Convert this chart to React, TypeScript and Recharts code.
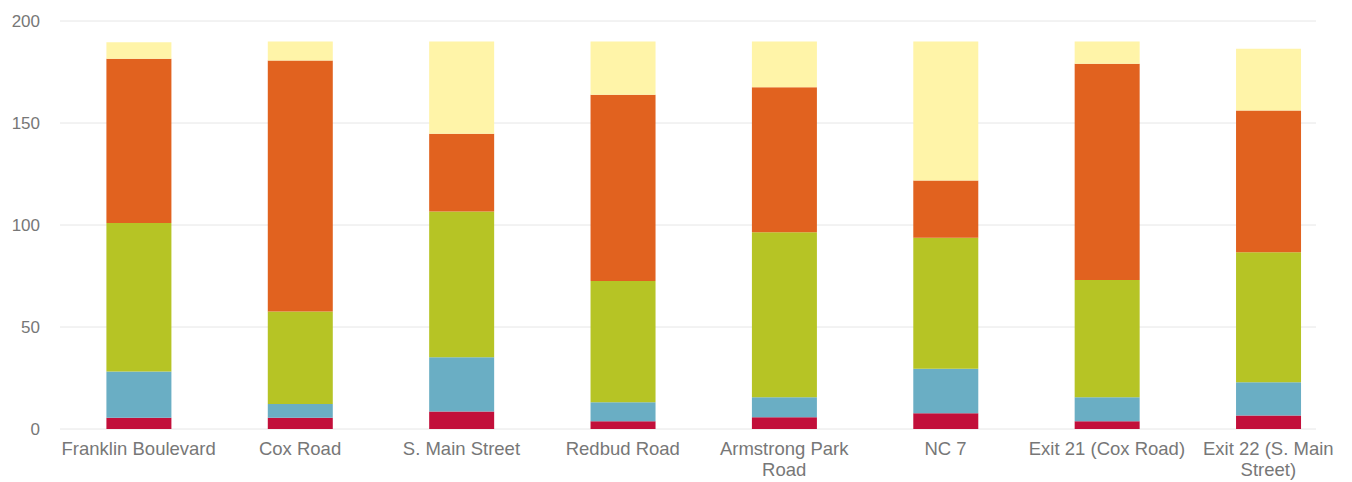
import { BarChart, Bar, XAxis, YAxis, CartesianGrid, Text } from "recharts";

const categories = [
  "Franklin Boulevard",
  "Cox Road",
  "S. Main Street",
  "Redbud Road",
  "Armstrong Park Road",
  "NC 7",
  "Exit 21 (Cox Road)",
  "Exit 22 (S. Main Street)",
];

// stacked from bottom to top
const redValues = [5.5, 5.5, 8.6, 3.8, 5.8, 7.7, 3.8, 6.6];
const blueValues = [22.7, 6.8, 26.6, 9.3, 9.8, 21.8, 11.8, 16.3];
const greenValues = [72.8, 45.3, 71.4, 59.4, 80.9, 64.2, 57.5, 63.8];
const orangeValues = [80.5, 123, 38.1, 91.3, 71, 28.1, 105.9, 69.4];
const yellowValues = [8.1, 9.4, 45.3, 26.2, 22.5, 68.2, 11, 30.3];

const yTicks = [0, 50, 100, 150, 200];

const series = [
  { key: "red", values: redValues, color: "#c20f3a" },
  { key: "blue", values: blueValues, color: "#6aaec4" },
  { key: "green", values: greenValues, color: "#b6c425" },
  { key: "orange", values: orangeValues, color: "#e1621f" },
  { key: "yellow", values: yellowValues, color: "#fff4a8" },
];

const data = categories.map((name, i) => {
  const row: Record<string, string | number> = { name };
  series.forEach((s) => {
    row[s.key] = s.values[i];
  });
  return row;
});

const FONT = "'Liberation Sans', Arial, sans-serif";

function CategoryTick(props: any) {
  const { x, y, payload } = props;
  const style = { fontSize: 18.5, fontFamily: FONT };
  return (
    <Text
      x={x}
      y={y + 5}
      width={150}
      textAnchor="middle"
      verticalAnchor="start"
      lineHeight={21}
      style={style}
      fontSize={18.5}
      fontFamily={FONT}
      fill="#777"
    >
      {payload.value}
    </Text>
  );
}

// grid lines stop a little short of the right edge, like the original
function GridLine(props: any) {
  const { x1, x2, y1, y2 } = props;
  return <line x1={x1 + 2} x2={x2 - 33} y1={y1} y2={y2} stroke="#e6e6e6" strokeWidth={1} />;
}

export default function App() {
  return (
    <div style={{ position: "absolute", left: 0, top: 0, width: 1352, height: 482, background: "#fff" }}>
      <BarChart
        width={1352}
        height={482}
        data={data}
        margin={{ top: 21, right: 3, bottom: 3, left: 0 }}
        barCategoryGap="30%"
      >
        <CartesianGrid vertical={false} horizontal={(p: any) => <GridLine key={p.key} {...p} />} />
        <XAxis
          dataKey="name"
          axisLine={false}
          tickLine={false}
          height={50}
          interval={0}
          tick={<CategoryTick />}
        />
        <YAxis
          width={58}
          domain={[0, 200]}
          ticks={yTicks}
          axisLine={false}
          tickLine={false}
          tickSize={0}
          tickMargin={18}
          tick={{ fontSize: 17, fill: "#777", fontFamily: FONT }}
        />
        {series.map((s) => (
          <Bar key={s.key} dataKey={s.key} stackId="a" fill={s.color} isAnimationActive={false} />
        ))}
      </BarChart>
    </div>
  );
}
